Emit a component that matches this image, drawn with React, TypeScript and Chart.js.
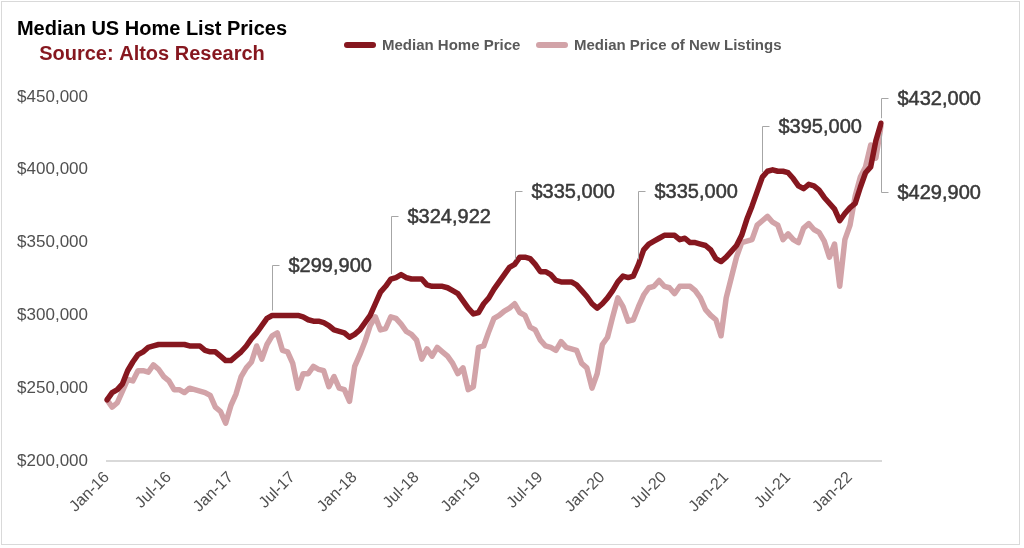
import React, { useEffect, useRef } from "react";
import { Chart, registerables } from "chart.js";

Chart.register(...registerables);

const FONT = "'Liberation Sans', Arial, sans-serif";
const DARK = "#86171F";
const PINK = "#D2A3A8";
const TEXT_GRAY = "#505050";

const TITLE = "Median US Home List Prices";
const SUBTITLE = "Source: Altos Research";
const SERIES_NAMES = ["Median Home Price", "Median Price of New Listings"];

// half-month periods starting Jan 2016
const START_YEAR = 2016;
const PERIODS_PER_MONTH = 2;
const MONTHS = ["Jan", "Feb", "Mar", "Apr", "May", "Jun", "Jul", "Aug", "Sep", "Oct", "Nov", "Dec"];

// values in $ thousands
const medianHomePrice = [
  242, 247, 249, 253, 262, 268, 273, 275, 278, 279,
  280, 280, 280, 280, 280, 280, 279, 279, 279, 276,
  275, 275, 272, 269, 269, 272, 275, 279, 284, 288,
  293, 298, 299.9, 300, 300, 300, 300, 300, 299, 297,
  296, 296, 295, 293, 290, 289, 288, 285, 287, 290,
  295, 300, 308, 316, 320, 324.922, 326, 328, 326, 325,
  325, 325, 321, 320, 320, 320, 319, 317, 315, 310,
  305, 301, 302, 308, 312, 318, 323, 328, 333, 335,
  340, 340, 339, 335, 330, 330, 328, 324, 323, 323,
  323, 321, 317, 313, 308, 305, 308, 312, 317, 323,
  327, 326, 327, 335, 345, 349, 351, 353, 355, 355,
  355, 352, 353, 350, 350, 349, 348, 345, 339, 337,
  340, 344, 348, 355, 366, 375, 385, 395, 399, 400,
  399, 399, 398, 394, 389, 387, 390, 389, 386, 381,
  377, 373, 365, 370, 374, 377, 388, 398, 402, 420,
  432,
];

const newListingsPrice = [
  242, 237, 240, 248, 256, 255, 262, 262, 261, 266,
  263, 258, 255, 249, 249, 247, 250, 249, 248, 247,
  245, 237, 234, 226, 238, 246, 258, 264, 268, 279,
  270, 280, 286, 288, 276, 275, 267, 250, 260, 260,
  265, 263, 262, 251, 258, 250, 249, 241, 265, 273,
  282, 293, 299, 290, 291, 299, 298, 294, 289, 287,
  283, 270, 277, 272, 278, 275, 272, 267, 260, 264,
  249, 251, 278, 279, 289, 298, 300, 303, 305, 308,
  302, 300, 292, 290, 283, 279, 278, 276, 282, 278,
  277, 276, 267, 264, 250, 260, 280, 285, 299, 312,
  306, 296, 297, 306, 314, 319, 320, 324, 320, 319,
  315, 320, 320, 320, 317, 312, 304, 300, 297, 286,
  312, 326, 340, 350, 351, 352, 362, 365, 368, 364,
  362, 352, 356, 352, 350, 360, 363, 359, 357, 351,
  340, 349, 320, 352, 362, 382, 395, 402, 417, 408,
  429.9,
];

const Y_MIN = 200000;
const Y_MAX = 450000;
const Y_STEP = 50000;
const LABEL_EVERY = 12; // every 6 months

// callouts: series index, point index, text, vertical offset of label (px)
const callouts = [
  { series: 0, index: 32, text: "$299,900", dy: -51 },
  { series: 0, index: 55, text: "$324,922", dy: -63 },
  { series: 0, index: 79, text: "$335,000", dy: -73 },
  { series: 0, index: 103, text: "$335,000", dy: -73 },
  { series: 0, index: 127, text: "$395,000", dy: -51 },
  { series: 0, index: 150, text: "$432,000", dy: -25 },
  { series: 1, index: 150, text: "$429,900", dy: 66 },
];

const periodLabels: string[] = medianHomePrice.map((_, i) => {
  const monthIdx = Math.floor(i / PERIODS_PER_MONTH);
  const m = monthIdx % 12;
  const y = START_YEAR + Math.floor(monthIdx / 12);
  return `${MONTHS[m]}-${String(y).slice(2)}`;
});

const overlayPlugin = {
  id: "overlay",
  afterDraw(chart: any) {
    const ctx = chart.ctx as CanvasRenderingContext2D;
    ctx.save();
    // frame
    ctx.strokeStyle = "#D9D9D9";
    ctx.lineWidth = 1;
    ctx.strokeRect(1.5, 1.5, 1018, 543);

    // title
    ctx.textAlign = "center";
    ctx.textBaseline = "alphabetic";
    ctx.font = `bold 20px ${FONT}`;
    ctx.fillStyle = "#000000";
    ctx.fillText(TITLE, 152, 35);
    ctx.fillStyle = DARK;
    ctx.fillText(SUBTITLE, 152, 60);

    // legend
    const legendItems = [
      { x: 344, color: chart.data.datasets[0].borderColor, text: chart.data.datasets[0].label },
      { x: 536, color: chart.data.datasets[1].borderColor, text: chart.data.datasets[1].label },
    ];
    ctx.font = `bold 15px ${FONT}`;
    ctx.textAlign = "left";
    for (const it of legendItems) {
      ctx.strokeStyle = it.color;
      ctx.lineWidth = 6;
      ctx.lineCap = "round";
      ctx.beginPath();
      ctx.moveTo(it.x + 3, 45);
      ctx.lineTo(it.x + 29, 45);
      ctx.stroke();
      ctx.fillStyle = "#595959";
      ctx.fillText(it.text, it.x + 38, 50);
    }

    // callouts
    ctx.font = `20px ${FONT}`;
    ctx.textBaseline = "middle";
    ctx.lineCap = "butt";
    for (const c of callouts) {
      const el = chart.getDatasetMeta(c.series).data[c.index];
      if (!el) continue;
      const px = Math.round(el.x) + 0.5;
      const py = el.y;
      const ty = Math.round(py + c.dy) + 0.5;
      const startY = c.dy < 0 ? py - 5 : py + 7;
      ctx.strokeStyle = "#A6A6A6";
      ctx.lineWidth = 1;
      ctx.beginPath();
      ctx.moveTo(px, startY);
      ctx.lineTo(px, ty);
      ctx.lineTo(px + 7, ty);
      ctx.stroke();
      ctx.fillStyle = "#3A3A3A";
      ctx.strokeStyle = "#3A3A3A";
      ctx.lineWidth = 0.5;
      ctx.fillText(c.text, px + 16, ty + 1);
      ctx.strokeText(c.text, px + 16, ty + 1);
    }
    ctx.restore();
  },
};

export default function App() {
  const canvasRef = useRef<HTMLCanvasElement | null>(null);

  useEffect(() => {
    if (!canvasRef.current) return;
    const chart = new Chart(canvasRef.current, {
      type: "line",
      data: {
        labels: periodLabels,
        datasets: [
          {
            label: SERIES_NAMES[0],
            data: medianHomePrice.map((v) => v * 1000),
            borderColor: DARK,
            borderWidth: 5.5,
            pointRadius: 0,
            tension: 0,
            borderJoinStyle: "round",
            borderCapStyle: "round",
          },
          {
            label: SERIES_NAMES[1],
            data: newListingsPrice.map((v) => v * 1000),
            borderColor: PINK,
            borderWidth: 5.5,
            pointRadius: 0,
            tension: 0,
            borderJoinStyle: "round",
            borderCapStyle: "round",
          },
        ],
      },
      options: {
        responsive: false,
        animation: false,
        events: [],
        layout: { padding: { top: 97, right: 143, left: 0, bottom: 0 } },
        plugins: {
          legend: { display: false },
          title: { display: false },
          tooltip: { enabled: false },
        },
        scales: {
          x: {
            type: "category",
            offset: false,
            grid: { display: false, drawTicks: false },
            border: { display: true, color: "#D9D9D9", width: 2 },
            ticks: {
              autoSkip: false,
              minRotation: 45,
              maxRotation: 45,
              padding: 7,
              color: TEXT_GRAY,
              font: { family: FONT, size: 16 },
              callback: (_v: any, i: number) => (i % LABEL_EVERY === 0 ? periodLabels[i] : null),
            },
            afterFit: (scale: any) => {
              scale.height = 87;
            },
          },
          y: {
            min: Y_MIN,
            max: Y_MAX,
            grid: { display: false, drawTicks: false },
            border: { display: false },
            ticks: {
              stepSize: Y_STEP,
              padding: 19,
              color: TEXT_GRAY,
              font: { family: FONT, size: 17 },
              callback: (v: any) => "$" + Number(v).toLocaleString("en-US"),
            },
            afterFit: (scale: any) => {
              scale.width = 107;
            },
          },
        },
      },
      plugins: [overlayPlugin],
    });
    return () => chart.destroy();
  }, []);

  return (
    <div style={{ position: "absolute", left: 0, top: 0, width: 1024, height: 548, background: "#fff" }}>
      <canvas ref={canvasRef} width={1024} height={548} style={{ display: "block" }} />
    </div>
  );
}
